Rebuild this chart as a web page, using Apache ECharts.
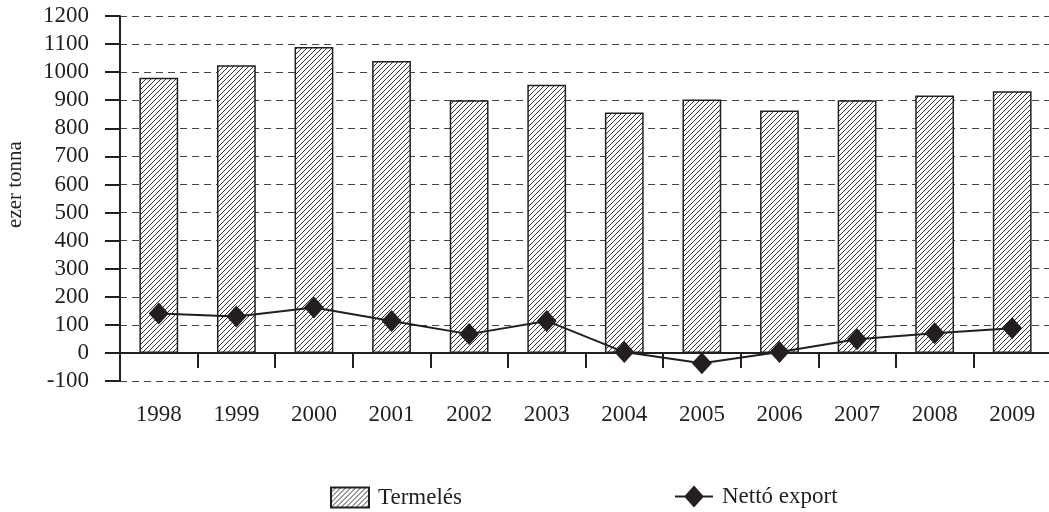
<!DOCTYPE html>
<html><head><meta charset="utf-8">
<script src="https://cdn.jsdelivr.net/npm/echarts@6/dist/echarts.min.js"></script>
<style>html,body{margin:0;padding:0;background:#fff}#c{width:1049px;height:512px}</style>
</head><body><div id="c"></div>
<script>
const years = ['1998','1999','2000','2001','2002','2003','2004','2005','2006','2007','2008','2009'];
const production = [980, 1025, 1090, 1040, 900, 955, 856, 903, 863, 900, 917, 932];
const netExport = [140, 130, 162, 114, 67, 114, 3, -37, 3, 49, 70, 88];
const seriesNames = ['Termelés', 'Nettó export'];
const yName = 'ezer tonna';

const FONT = '"Liberation Serif", "Times New Roman", serif';
const INK = '#231f20';

function hatch() {
  const s = 5, cv = document.createElement('canvas');
  cv.width = s; cv.height = s;
  const ctx = cv.getContext('2d');
  ctx.fillStyle = '#fff'; ctx.fillRect(0, 0, s, s);
  ctx.strokeStyle = '#333'; ctx.lineWidth = 1;
  ctx.beginPath();
  ctx.moveTo(0, s); ctx.lineTo(s, 0);
  ctx.moveTo(-1, 1); ctx.lineTo(1, -1);
  ctx.moveTo(s - 1, s + 1); ctx.lineTo(s + 1, s - 1);
  ctx.stroke();
  return cv;
}
const pattern = { image: hatch(), repeat: 'repeat' };
const lineDiamondIcon = 'path://M0,10L10,10L19,0L28,10L38,10L38,12L28,12L19,22L10,12L0,12Z';

const chart = echarts.init(document.getElementById('c'), null, { renderer: 'canvas' });
chart.setOption({
  animation: false,
  backgroundColor: '#fff',
  textStyle: { fontFamily: FONT, color: INK },
  grid: { left: 120, top: 16, width: 931, height: 365, containLabel: false, outerBoundsMode: 'none' },
  legend: [
    { data: [{ name: seriesNames[0], icon: 'rect' }], left: 330, top: 486, padding: 0, itemWidth: 38, itemHeight: 20, itemGap: 10,
      textStyle: { fontFamily: FONT, fontSize: 23, color: INK, padding: [0, 0, 0, 4] } },
    { data: [{ name: seriesNames[1], icon: lineDiamondIcon }], left: 675, top: 485, padding: 0, itemWidth: 38, itemHeight: 22, itemGap: 10,
      textStyle: { fontFamily: FONT, fontSize: 23, color: INK, padding: [0, 0, 0, 4] } }
  ],
  xAxis: {
    type: 'category', data: years, boundaryGap: true,
    axisLine: { onZero: true, lineStyle: { color: INK, width: 2 } },
    axisTick: { show: true, length: 15, inside: false, lineStyle: { color: INK, width: 2 } },
    axisLabel: { margin: 22, fontFamily: FONT, fontSize: 23, color: INK },
    splitLine: { show: false }
  },
  yAxis: {
    type: 'value', min: -100, max: 1200, interval: 100,
    name: yName, nameLocation: 'middle', nameRotate: 90, nameGap: 94,
    nameTextStyle: { fontFamily: FONT, fontSize: 21, color: INK, padding: [0, 0, 0, 28] },
    axisLine: { show: true, lineStyle: { color: INK, width: 2 } },
    axisTick: { show: true, length: 15, inside: false, lineStyle: { color: INK, width: 2 } },
    axisLabel: { margin: 31, fontFamily: FONT, fontSize: 23, color: INK, formatter: v => String(v) },
    splitLine: { show: true, lineStyle: { color: '#444', width: 1.2, type: [7, 5] } }
  },
  series: [
    { name: seriesNames[0], type: 'bar', data: production, barWidth: '50%',
      itemStyle: { color: pattern, borderColor: INK, borderWidth: 1.5 }, z: 2 },
    { name: seriesNames[1], type: 'line', data: netExport, symbol: 'diamond', symbolSize: [20, 22],
      lineStyle: { color: INK, width: 2 }, itemStyle: { color: INK }, z: 5 }
  ]
});
</script></body></html>
